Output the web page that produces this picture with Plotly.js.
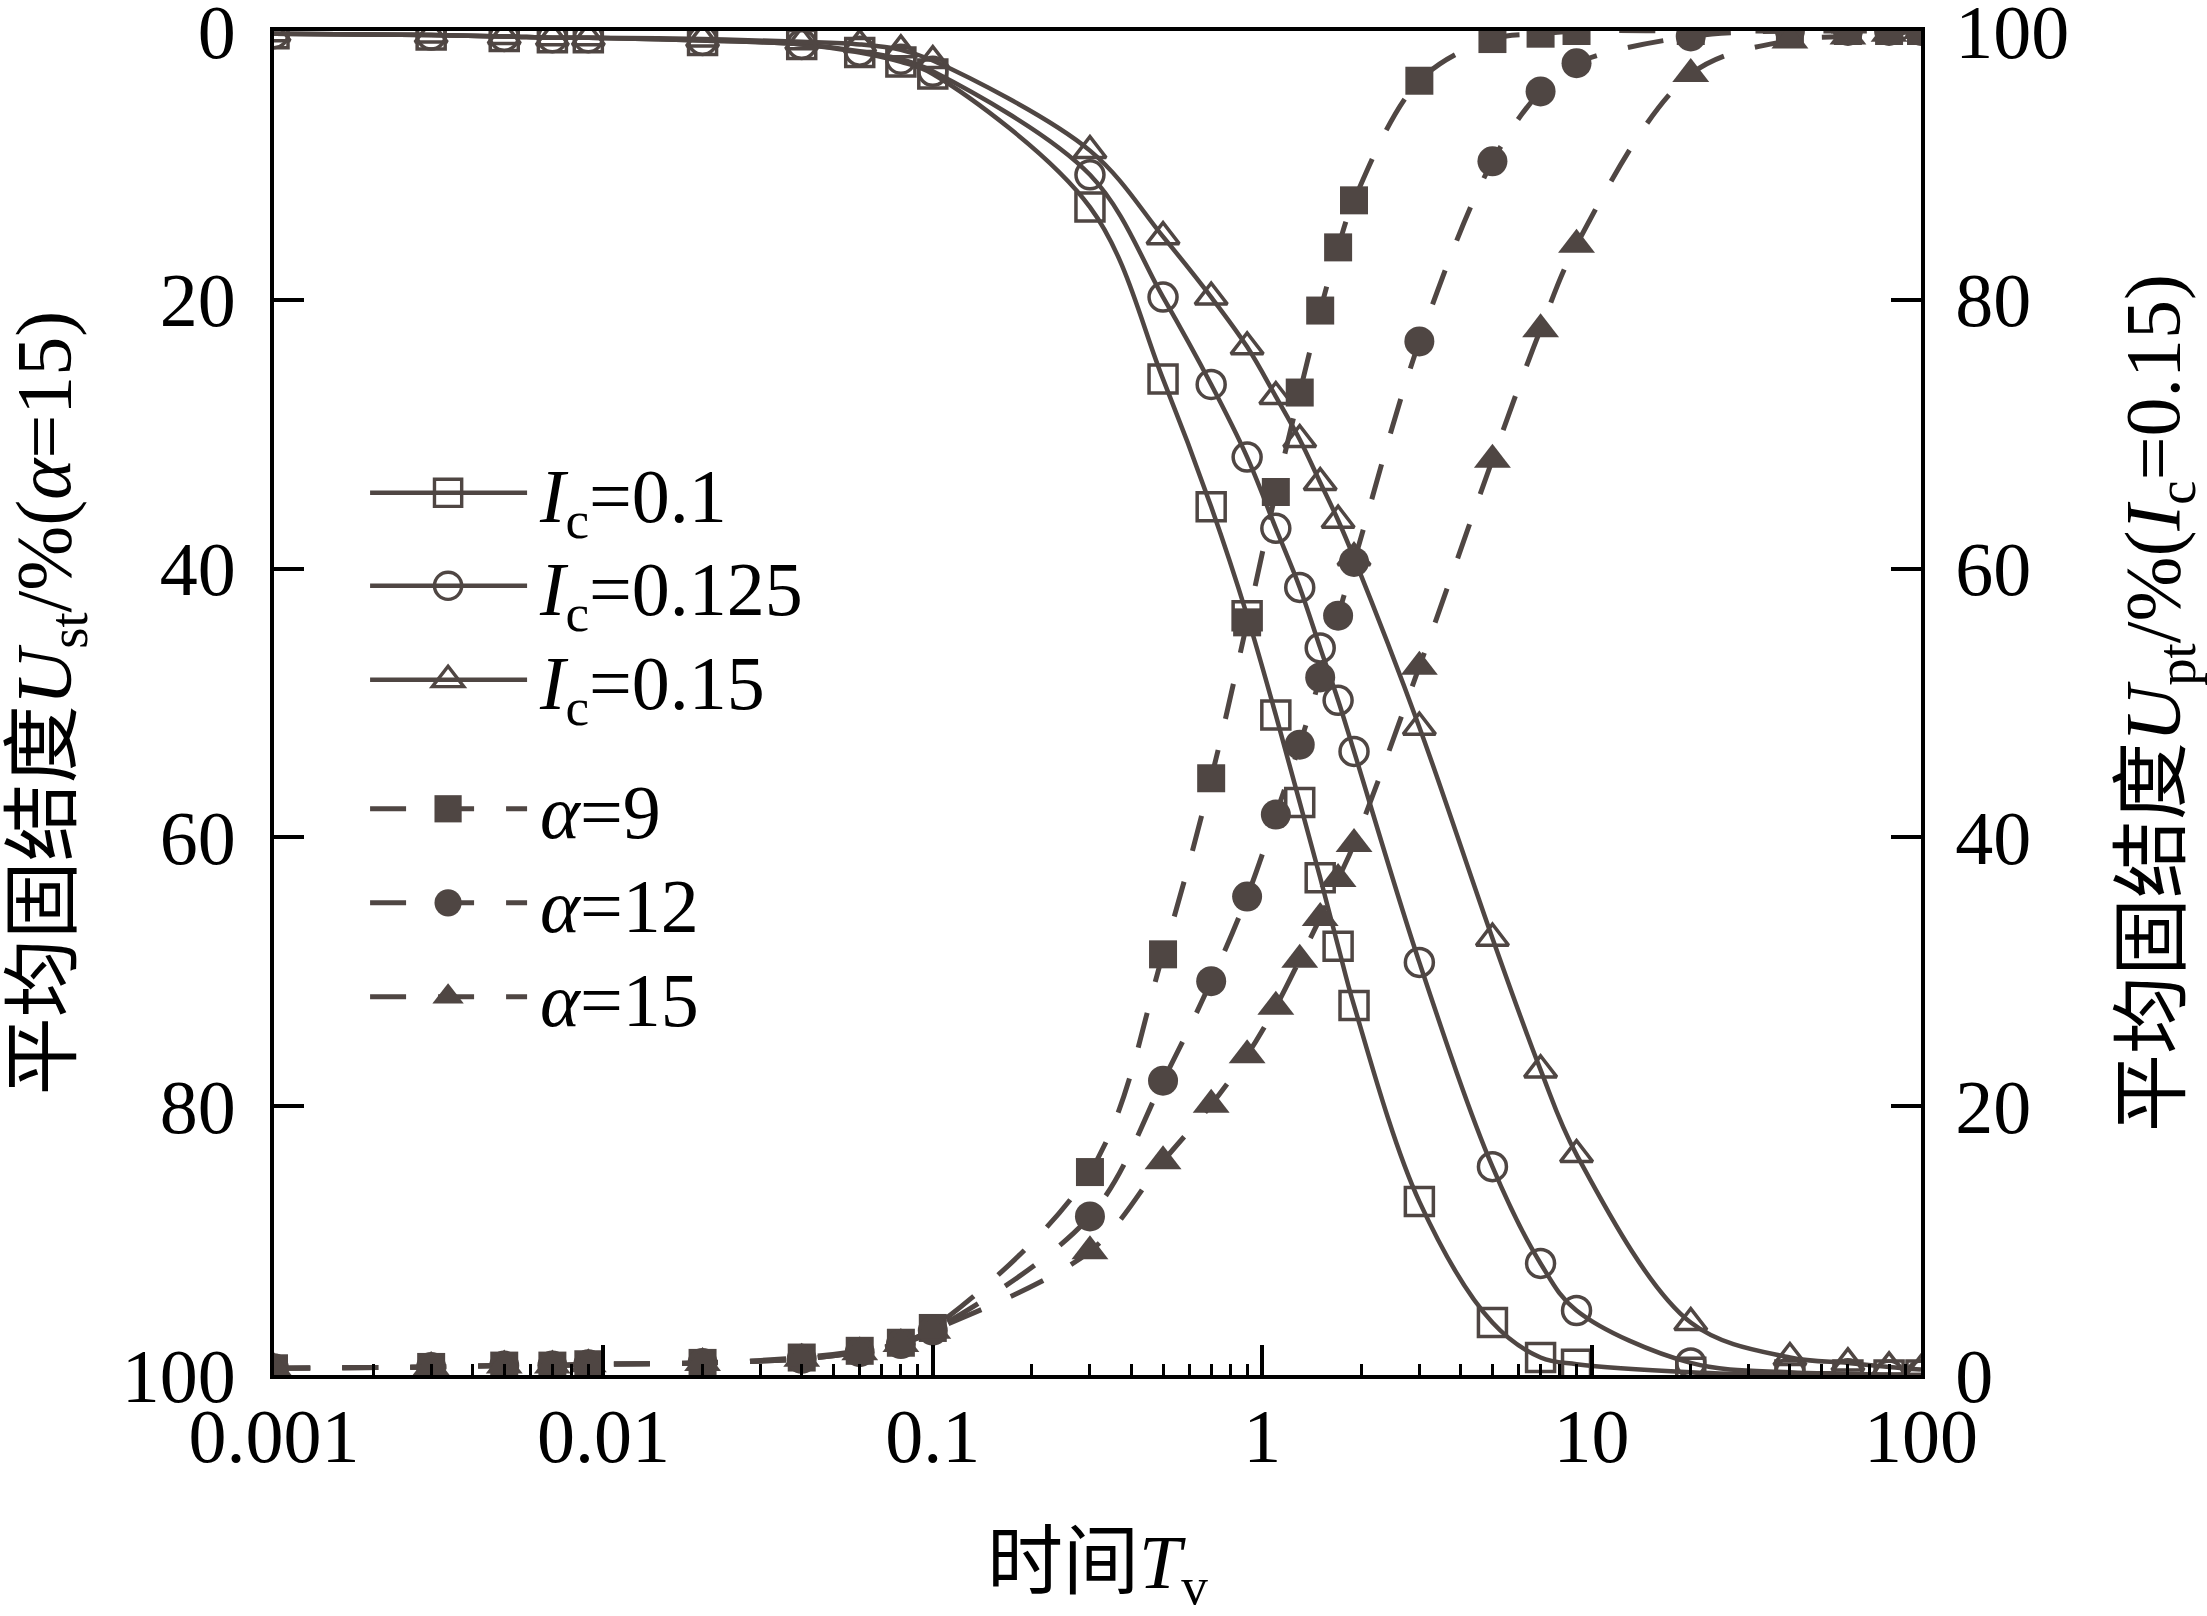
<!DOCTYPE html>
<html>
<head>
<meta charset="utf-8">
<script src="https://cdn.plot.ly/plotly-3.0.1.min.js"></script>
<style>
  html, body { margin: 0; padding: 0; background: #ffffff; }
  #chart { width: 2207px; height: 1616px; }
</style>
</head>
<body>
<div id="chart"></div>
<script>
// ---- data ----
const T = [0.001, 0.003, 0.005, 0.007, 0.009, 0.02, 0.04, 0.06, 0.08, 0.1,
           0.3, 0.5, 0.7, 0.9, 1.1, 1.3, 1.5, 1.7, 1.9, 3, 5, 7, 9, 20, 40, 60, 80, 100];

// average consolidation degree U_st (%) for alpha = 15, left axis
const Ust_Ic010  = [0.2, 0.3, 0.4, 0.5, 0.5, 0.7, 1.0, 1.6, 2.3, 3.2,
                    13.1, 25.9, 35.4, 43.5, 50.9, 57.4, 63.0, 68.1, 72.5, 87.1, 96.1, 98.7, 99.2, 99.8, 100, 100, 100, 100];
const Ust_Ic0125 = [0.2, 0.3, 0.4, 0.5, 0.5, 0.7, 1.0, 1.5, 2.1, 3.0,
                    10.7, 19.8, 26.3, 31.7, 37.0, 41.4, 45.9, 49.8, 53.6, 69.3, 84.5, 91.7, 95.2, 99.1, 99.8, 99.9, 100, 100];
const Ust_Ic015  = [0.2, 0.3, 0.4, 0.5, 0.5, 0.6, 0.8, 1.0, 1.4, 2.2,
                    8.9, 15.3, 19.8, 23.5, 27.2, 30.4, 33.6, 36.4, 39.2, 51.8, 67.5, 77.3, 83.6, 96.1, 98.7, 99.1, 99.4, 99.6];

// average consolidation degree U_pt (%) for I_c = 0.15, right axis
const Upt_a9  = [0.5, 0.6, 0.7, 0.7, 0.8, 0.9, 1.3, 1.8, 2.4, 3.5,
                 15.1, 31.3, 44.4, 56.0, 65.7, 73.1, 79.2, 83.9, 87.4, 96.3, 99.4, 99.8, 100, 100, 100, 100, 100, 100];
const Upt_a12 = [0.5, 0.6, 0.7, 0.7, 0.8, 0.9, 1.2, 1.7, 2.3, 3.3,
                 11.8, 21.9, 29.3, 35.6, 41.7, 46.9, 51.9, 56.5, 60.5, 76.9, 90.3, 95.5, 97.6, 99.6, 100, 100, 100, 100];
const Upt_a15 = [0.5, 0.6, 0.7, 0.7, 0.8, 0.9, 1.2, 1.7, 2.3, 3.3,
                 9.2, 15.9, 20.1, 23.8, 27.4, 30.9, 34.0, 36.9, 39.5, 52.7, 68.1, 77.8, 84.1, 96.8, 99.3, 99.6, 99.8, 100];

const xTickVals = [0.001, 0.01, 0.1, 1, 10, 100];
const xTickText = ['0.001', '0.01', '0.1', '1', '10', '100'];
const yTickVals = [0, 20, 40, 60, 80, 100];
const yTickText = ['0', '20', '40', '60', '80', '100'];

const solidNames  = ['<i>I</i><sub>c</sub>=0.1', '<i>I</i><sub>c</sub>=0.125', '<i>I</i><sub>c</sub>=0.15'];
const dashedNames = ['<i>α</i>=9', '<i>α</i>=12', '<i>α</i>=15'];

// ---- styling ----
const C = '#4f4643';
const SERIF = 'Liberation Serif, Times New Roman, serif';
const CJK = 'Liberation Serif, Noto Sans CJK SC, serif';

function solid(y, name, sym) {
  return {
    x: T, y: y, name: name, type: 'scatter', mode: 'lines+markers',
    xaxis: 'x', yaxis: 'y',
    line: { color: C, width: 4.5, shape: 'spline', smoothing: 1 },
    marker: { symbol: sym, size: 28, color: C, line: { color: C, width: 3.5 } }
  };
}
function dashed(y, name, sym, size) {
  return {
    x: T, y: y, name: name, type: 'scatter', mode: 'lines+markers',
    xaxis: 'x', yaxis: 'y2',
    line: { color: C, width: 5, dash: '36px,32px', shape: 'spline', smoothing: 1 },
    marker: { symbol: sym, size: size, color: C, line: { width: 0 } }
  };
}

const data = [
  solid(Ust_Ic010,  solidNames[0], 'square-open'),
  solid(Ust_Ic0125, solidNames[1], 'circle-open'),
  solid(Ust_Ic015,  solidNames[2], 'triangle-up-open'),
  dashed(Upt_a9,  dashedNames[0], 'square', 28),
  dashed(Upt_a12, dashedNames[1], 'circle', 30),
  dashed(Upt_a15, dashedNames[2], 'triangle-up', 32)
];

const tickFont = { family: SERIF, size: 76, color: '#000' };

const layout = {
  width: 2207, height: 1616,
  margin: { l: 274, r: 286, t: 31, b: 241, pad: 0 },
  paper_bgcolor: '#fff', plot_bgcolor: '#fff',
  showlegend: true,
  legend: {
    x: 0.0553, xanchor: 'left', y: 0.698, yanchor: 'top',
    bgcolor: 'rgba(0,0,0,0)', borderwidth: 0,
    font: { family: SERIF, size: 76, color: '#000' },
    itemwidth: 165, tracegroupgap: 0, traceorder: 'normal',
    itemsizing: 'trace'
  },
  xaxis: {
    type: 'log', range: [-3, 2],
    tickvals: xTickVals, ticktext: xTickText,
    ticks: 'inside', ticklen: 30, tickwidth: 4, tickcolor: '#000',
    minor: { ticks: 'inside', ticklen: 11, tickwidth: 3, tickcolor: '#000', dtick: 'D1', showgrid: false },
    showline: true, linecolor: '#000', linewidth: 4, mirror: true,
    showgrid: false, zeroline: false,
    tickfont: tickFont, ticklabelstandoff: -8, ticklabeloverflow: 'allow',
    title: { text: '时间<i>T</i><sub>v</sub>', font: { family: CJK, size: 76, color: '#000' }, standoff: 62 }
  },
  yaxis: {
    range: [100, 0],
    tickvals: yTickVals, ticktext: yTickText,
    ticks: 'inside', ticklen: 30, tickwidth: 4, tickcolor: '#000',
    showline: true, linecolor: '#000', linewidth: 4,
    showgrid: false, zeroline: false,
    tickfont: tickFont, ticklabelstandoff: 19, ticklabeloverflow: 'allow',
    title: { text: '平均固结度<i>U</i><sub>st</sub>/%(<i>α</i>=15)', font: { family: CJK, size: 78, color: '#000' }, standoff: 26 }
  },
  yaxis2: {
    range: [0, 100], overlaying: 'y', side: 'right', anchor: 'x',
    tickvals: yTickVals, ticktext: yTickText,
    ticks: 'inside', ticklen: 30, tickwidth: 4, tickcolor: '#000',
    showline: true, linecolor: '#000', linewidth: 4,
    showgrid: false, zeroline: false,
    tickfont: tickFont, ticklabelstandoff: 15, ticklabeloverflow: 'allow',
    title: { text: '平均固结度<i>U</i><sub>pt</sub>/%(<i>I</i><sub>c</sub>=0.15)', font: { family: CJK, size: 78, color: '#000' }, standoff: 70 }
  }
};

// legend item vertical offsets (px) so that the two groups sit like in the reference
const legendOffsets = [0, 93, 187, 316, 410, 504];

Plotly.newPlot('chart', data, layout, { staticPlot: true, displayModeBar: false }).then(function (gd) {
  // longer legend sample lines, larger legend symbols
  gd.querySelectorAll('.legend .legendlines path').forEach(function (p) {
    p.setAttribute('d', 'M5,0h157');
  });
  gd.querySelectorAll('.legend .legendpoints path').forEach(function (p) {
    p.setAttribute('transform', 'translate(83,0) scale(1.7)');
    p.style.strokeWidth = '2px';
  });
  // tighten legend rows
  var items = gd.querySelectorAll('.legend g.traces');
  var y0 = null;
  items.forEach(function (g, i) {
    var tr = g.getAttribute('transform') || '';
    var m = tr.match(/translate\(\s*([-\d.]+)[ ,]+([-\d.]+)\s*\)/);
    if (!m) return;
    var x = parseFloat(m[1]), y = parseFloat(m[2]);
    if (y0 === null) y0 = y;
    if (i < legendOffsets.length) g.setAttribute('transform', 'translate(' + x + ',' + (y0 + legendOffsets[i]) + ')');
  });
});
</script>
</body>
</html>
